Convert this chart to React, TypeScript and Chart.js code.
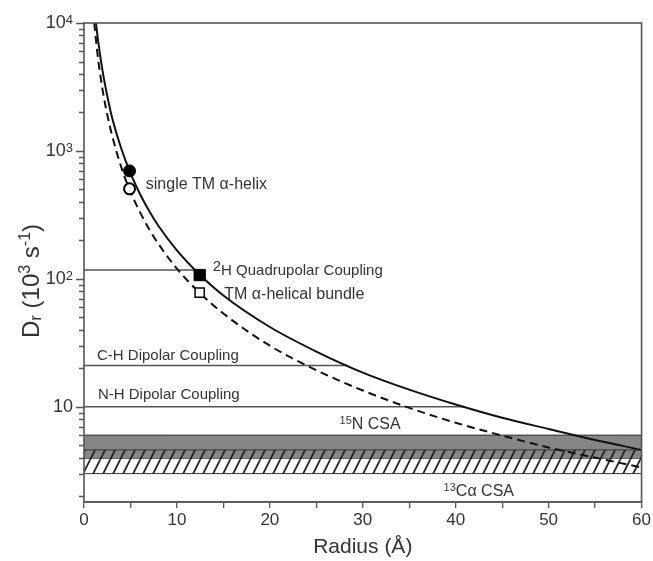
import React, { useEffect, useRef } from 'react';
import { Chart, registerables } from 'chart.js';

Chart.register(...registerables);

// ---- data ----
const solidR = [1.29, 1.5, 2, 2.5, 3, 4, 5, 6, 7, 8, 10, 12.5, 15, 20, 25, 30, 35, 40, 45, 50, 55, 60];
const solidDr = [10000, 7400, 4200, 2700, 1850, 1050, 670, 465, 340, 260, 167, 107, 74, 42, 27, 18.5, 13.6, 10.4, 8.2, 6.7, 5.5, 4.6];
const dashedR = [1.1, 1.5, 2, 2.5, 3, 4, 5, 6, 7, 8, 10, 12.5, 15, 20, 25, 30, 35, 40, 45, 50, 55, 60];
const dashedDr = [10000, 5350, 3000, 1930, 1340, 750, 480, 335, 245, 188, 120, 77, 53.5, 30, 19.3, 13.4, 9.8, 7.5, 5.95, 4.8, 4.0, 3.35];

const helixR = 4.9;
const helixFilled = 698;
const helixOpen = 505;
const bundleR = 12.45;
const bundleFilled = 107;
const bundleOpen = 78;

const couplingNames = ['2H Quadrupolar', 'C-H Dipolar', 'N-H Dipolar'];
const couplingValues = [117, 21, 10];
const couplingEnds = [12.45, 28.4, 40.9];

const n15Band = [3.95, 6.0];
const c13Band = [3.0, 4.6];

const xMin = 0;
const xMax = 60;
const yMin = 1.8;
const yMax = 10000;
const xTickStep = 5;
const yMajorTicks = [10, 100, 1000, 10000];
const yMajorExp = ['', '2', '3', '4'];

// ---- styles ----
const FONT = '"Liberation Sans", Arial, Helvetica, sans-serif';
const TEXT = '#333333';
const AXIS = '#555555';

type Part = { t: string; size: number; dy?: number };

function drawRich(ctx: CanvasRenderingContext2D, parts: Part[], x: number, y: number, align: 'left' | 'center' | 'right') {
  ctx.textBaseline = 'alphabetic';
  ctx.textAlign = 'left';
  let total = 0;
  for (const p of parts) {
    ctx.font = `${p.size}px ${FONT}`;
    total += ctx.measureText(p.t).width;
  }
  let cx = align === 'left' ? x : align === 'center' ? x - total / 2 : x - total;
  for (const p of parts) {
    ctx.font = `${p.size}px ${FONT}`;
    ctx.fillText(p.t, cx, y + (p.dy || 0));
    cx += ctx.measureText(p.t).width;
  }
}

// annotations anchored in data units (x = radius, y = Dr)
const annotations: { x: number; y: number; parts: Part[] }[] = [
  { x: 6.65, y: 561, parts: [{ t: 'single TM \u03b1-helix', size: 16 }] },
  { x: 13.85, y: 119, parts: [{ t: '2', size: 15, dy: -4 }, { t: 'H Quadrupolar Coupling', size: 15 }] },
  { x: 15.1, y: 77.4, parts: [{ t: 'TM \u03b1-helical bundle', size: 16 }] },
  { x: 1.4, y: 25.8, parts: [{ t: 'C-H Dipolar Coupling', size: 15 }] },
  { x: 1.5, y: 12.6, parts: [{ t: 'N-H Dipolar Coupling', size: 15 }] },
  { x: 27.5, y: 7.33, parts: [{ t: '15', size: 11, dy: -5 }, { t: 'N CSA', size: 16 }] },
  { x: 38.7, y: 2.23, parts: [{ t: '13', size: 11, dy: -5 }, { t: 'C\u03b1 CSA', size: 16 }] },
];

function makeHatch(ctx: CanvasRenderingContext2D) {
  const c = document.createElement('canvas');
  const w = 10;
  const h = 20;
  c.width = w;
  c.height = h;
  const g = c.getContext('2d')!;
  g.strokeStyle = '#222222';
  g.lineWidth = 1.8;
  g.beginPath();
  g.moveTo(0, h);
  g.lineTo(w, 0);
  g.moveTo(-w, h);
  g.lineTo(0, 0);
  g.moveTo(w, h);
  g.lineTo(2 * w, 0);
  g.stroke();
  return ctx.createPattern(c, 'repeat');
}

const decorPlugin = {
  id: 'decor',
  afterDatasetsDraw(chart: any) {
    const ctx: CanvasRenderingContext2D = chart.ctx;
    const { left, right, top, bottom } = chart.chartArea;
    const xs = chart.scales.x;
    const ys = chart.scales.y;
    ctx.save();
    ctx.fillStyle = TEXT;
    for (const a of annotations) {
      const px = xs.getPixelForValue(a.x);
      const py = ys.getPixelForValue(a.y);
      drawRich(ctx, a.parts, px, py + 5.5, 'left');
    }
    // frame
    ctx.strokeStyle = AXIS;
    ctx.lineWidth = 1.6;
    ctx.strokeRect(left, top, right - left, bottom - top);
    // y ticks
    ctx.lineWidth = 1.3;
    ctx.beginPath();
    for (let d = 1; d <= 10000; d *= 10) {
      for (let m = 1; m <= 9; m++) {
        const v = m * d;
        if (v < yMin || v > yMax) continue;
        const py = Math.round(ys.getPixelForValue(v)) + 0.5;
        const len = m === 1 ? 8 : 5;
        ctx.moveTo(left - len, py);
        ctx.lineTo(left, py);
      }
    }
    ctx.stroke();
    // y tick labels
    ctx.fillStyle = TEXT;
    yMajorTicks.forEach((v, i) => {
      const py = ys.getPixelForValue(v);
      const parts: Part[] = [{ t: '10', size: 18, dy: 5 }];
      if (yMajorExp[i]) parts.push({ t: yMajorExp[i], size: 13, dy: 1 });
      drawRich(ctx, parts, left - 11, py, 'right');
    });
    // y title
    ctx.save();
    ctx.translate(31, 281);
    ctx.rotate(-Math.PI / 2);
    drawRich(
      ctx,
      [
        { t: 'D', size: 24 },
        { t: 'r', size: 17, dy: 2 },
        { t: ' (10', size: 24 },
        { t: '3', size: 16, dy: -9 },
        { t: ' s', size: 24 },
        { t: '-1', size: 16, dy: -9 },
        { t: ')', size: 24 },
      ],
      0,
      8,
      'center'
    );
    ctx.restore();
    // x title
    drawRich(ctx, [{ t: 'Radius (\u00c5)', size: 21 }], (left + right) / 2, 553, 'center');
    ctx.restore();
  },
};

export default function App() {
  const ref = useRef<HTMLCanvasElement>(null);
  useEffect(() => {
    document.body.style.margin = '0';
    const canvas = ref.current!;
    const ctx = canvas.getContext('2d')!;
    const hatch = makeHatch(ctx);

    const pts = (xs: number[], ys: number[]) => xs.map((x, i) => ({ x, y: ys[i] }));
    const hline = (v: number, x0: number, x1: number) => [{ x: x0, y: v }, { x: x1, y: v }];

    const datasets: any[] = [
      {
        label: '15N CSA upper',
        data: hline(n15Band[1], xMin, xMax),
        borderColor: '#333',
        borderWidth: 1,
        backgroundColor: '#868686',
        fill: '+1',
        pointRadius: 0,
        order: 10,
      },
      {
        label: '15N CSA lower',
        data: hline(n15Band[0], xMin, xMax),
        borderColor: '#333',
        borderWidth: 1,
        fill: false,
        pointRadius: 0,
        order: 10,
      },
      {
        label: '13Ca CSA upper',
        data: hline(c13Band[1], xMin, xMax),
        borderColor: '#333',
        borderWidth: 1,
        backgroundColor: hatch,
        fill: '+1',
        pointRadius: 0,
        order: 9,
      },
      {
        label: '13Ca CSA lower',
        data: hline(c13Band[0], xMin, xMax),
        borderColor: '#333',
        borderWidth: 1,
        fill: false,
        pointRadius: 0,
        order: 9,
      },
      ...couplingNames.map((name, i) => ({
        label: name,
        data: hline(couplingValues[i], xMin, couplingEnds[i]),
        borderColor: '#555',
        borderWidth: 1.5,
        fill: false,
        pointRadius: 0,
        order: 5,
      })),
      {
        label: 'solid',
        data: pts(solidR, solidDr),
        borderColor: '#111',
        borderWidth: 2,
        fill: false,
        pointRadius: 0,
        cubicInterpolationMode: 'monotone',
        order: 1,
      },
      {
        label: 'dashed',
        data: pts(dashedR, dashedDr),
        borderColor: '#111',
        borderWidth: 2,
        borderDash: [8, 5],
        fill: false,
        pointRadius: 0,
        cubicInterpolationMode: 'monotone',
        order: 1,
      },
      {
        label: 'helix filled',
        data: [{ x: helixR, y: helixFilled }],
        showLine: false,
        pointStyle: 'circle',
        pointRadius: 6,
        pointBackgroundColor: '#000',
        pointBorderColor: '#000',
        pointBorderWidth: 1,
        order: 0,
      },
      {
        label: 'helix open',
        data: [{ x: helixR, y: helixOpen }],
        showLine: false,
        pointStyle: 'circle',
        pointRadius: 5.5,
        pointBackgroundColor: '#fff',
        pointBorderColor: '#000',
        pointBorderWidth: 2,
        order: 0,
      },
      {
        label: 'bundle filled',
        data: [{ x: bundleR, y: bundleFilled }],
        showLine: false,
        pointStyle: 'rect',
        pointRadius: 8,
        pointBackgroundColor: '#000',
        pointBorderColor: '#000',
        pointBorderWidth: 1,
        order: 0,
      },
      {
        label: 'bundle open',
        data: [{ x: bundleR, y: bundleOpen }],
        showLine: false,
        pointStyle: 'rect',
        pointRadius: 6.5,
        pointBackgroundColor: '#fff',
        pointBorderColor: '#000',
        pointBorderWidth: 1.5,
        order: 0,
      },
    ];

    const chart = new Chart(canvas, {
      type: 'line',
      data: { datasets },
      options: {
        responsive: false,
        animation: false,
        devicePixelRatio: 1,
        layout: { padding: { top: 23, right: 10, left: 0, bottom: 0 } },
        plugins: { legend: { display: false }, tooltip: { enabled: false } },
        scales: {
          x: {
            type: 'linear',
            min: xMin,
            max: xMax,
            afterFit: (s: any) => {
              s.height = 59;
            },
            border: { display: true, color: AXIS, width: 1.5 },
            grid: { display: true, drawOnChartArea: false, drawTicks: true, tickLength: 6, color: AXIS, lineWidth: 1.3 },
            ticks: {
              stepSize: xTickStep,
              autoSkip: false,
              maxRotation: 0,
              padding: 2,
              color: TEXT,
              font: { family: FONT, size: 17 },
              callback: (v: any) => (Number(v) % 10 === 0 ? String(v) : ''),
            },
          },
          y: {
            type: 'logarithmic',
            min: yMin,
            max: yMax,
            afterFit: (s: any) => {
              s.width = 84;
            },
            border: { display: false },
            grid: { display: false },
            ticks: { display: false },
          },
        },
      } as any,
      plugins: [decorPlugin],
    });
    return () => chart.destroy();
  }, []);
  return (
    <div style={{ width: 653, height: 561, background: '#fff' }}>
      <canvas ref={ref} width={653} height={561} style={{ display: 'block' }} />
    </div>
  );
}
